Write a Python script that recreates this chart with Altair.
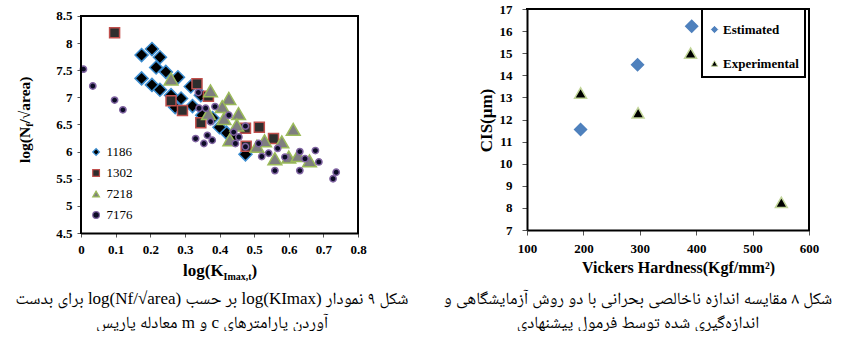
import altair as alt
import pandas as pd

SERIF = "Liberation Serif"
CAP_FONT = "Liberation Serif, 'Noto Naskh Arabic', 'Noto Serif Arabic', 'Noto Sans Arabic', 'DejaVu Sans', serif"
RLE, PDF = "\u202b", "\u202c"

# ---------------- Left chart (Fig. 9) data ----------------
s1186_k = [0.175, 0.205, 0.228, 0.217, 0.245, 0.280, 0.175, 0.205, 0.228, 0.260, 0.289,
           0.272, 0.322, 0.317, 0.346, 0.350, 0.380, 0.420, 0.440, 0.475, 0.400]
s1186_n = [7.78, 7.89, 7.74, 7.55, 7.47, 7.37, 7.35, 7.23, 7.14, 7.04, 6.98,
           6.82, 6.84, 7.20, 7.04, 6.67, 6.62, 6.35, 6.25, 5.95, 6.45]
s1302_k = [0.097, 0.260, 0.293, 0.335, 0.368, 0.346, 0.475, 0.515, 0.556, 0.477]
s1302_n = [8.19, 6.94, 6.76, 7.25, 7.02, 6.53, 6.43, 6.45, 6.24, 6.10]
s7218_k = [0.260, 0.374, 0.368, 0.427, 0.408, 0.455, 0.413, 0.450, 0.613, 0.530, 0.580,
           0.508, 0.560, 0.600, 0.627, 0.660, 0.430]
s7218_n = [7.34, 7.12, 6.70, 6.98, 6.83, 6.70, 6.61, 6.49, 6.41, 6.20, 6.18,
           6.10, 5.87, 5.90, 5.93, 5.83, 6.22]
s7176_k = [0.007, 0.034, 0.097, 0.121, 0.339, 0.341, 0.360, 0.387, 0.374, 0.331, 0.355,
           0.365, 0.379, 0.427, 0.441, 0.456, 0.475, 0.446, 0.475, 0.513, 0.522, 0.542,
           0.568, 0.589, 0.560, 0.632, 0.647, 0.677, 0.687, 0.632, 0.737, 0.728]
s7176_n = [7.52, 7.21, 6.95, 6.77, 7.09, 6.80, 6.80, 6.83, 6.55, 6.24, 6.15,
           6.30, 6.21, 6.67, 6.36, 6.27, 6.47, 6.15, 6.09, 6.15, 5.91, 5.97,
           6.06, 5.90, 5.65, 6.00, 5.87, 6.02, 5.81, 5.65, 5.62, 5.50]
left_series = ["1186", "1302", "7218", "7176"]
left_x_ticks = [0, 0.1, 0.2, 0.3, 0.4, 0.5, 0.6, 0.7, 0.8]
left_y_ticks = [4.5, 5, 5.5, 6, 6.5, 7, 7.5, 8, 8.5]
left_x_title = ["log(K", "Imax,t", ")"]
left_y_title = ["log(N", "f", "/√area)"]
left_caption = ["شکل ۹ نمودار log(KImax) بر حسب log(Nf/√area) برای بدست",
                "آوردن پارامترهای c و m معادله پاریس"]

# ---------------- Right chart (Fig. 8) data ----------------
est_hv = [195, 296, 392]
est_cis = [11.55, 14.48, 16.22]
exp_hv = [195, 297, 390, 551]
exp_cis = [13.2, 12.3, 15.0, 8.25]
right_series = ["Estimated", "Experimental"]
right_x_ticks = [100, 200, 300, 400, 500, 600]
right_y_ticks = [7, 8, 9, 10, 11, 12, 13, 14, 15, 16, 17]
right_x_title = "Vickers Hardness(Kgf/mm²)"
right_y_title = "CIS(μm)"
right_caption = ["شکل ۸ مقایسه اندازه ناخالصی بحرانی با دو روش آزمایشگاهی و",
                 "اندازه‌گیری شده توسط فرمول پیشنهادی"]

# ---------------- tables ----------------
rows = []
for name, ks, ns in [("1186", s1186_k, s1186_n), ("1302", s1302_k, s1302_n),
                     ("7218", s7218_k, s7218_n), ("7176", s7176_k, s7176_n)]:
    for k, n in zip(ks, ns):
        rows.append({"series": name, "k": k, "n": n})
left_df = pd.DataFrame(rows)

rrows = []
for name, hs, cs in [("Estimated", est_hv, est_cis), ("Experimental", exp_hv, exp_cis)]:
    for h, c in zip(hs, cs):
        rrows.append({"series": name, "hv": h, "cis": c})
right_df = pd.DataFrame(rrows)

one = pd.DataFrame({"a": [0]})

LW, LH = 277, 224
RW, RH = 282, 221


def piece(text, x, y, size, angle=0, align="left", baseline="alphabetic", weight="bold"):
    return alt.Chart(pd.DataFrame({"t": [text]})).mark_text(
        font=SERIF, fontSize=size, fontWeight=weight, angle=angle,
        align=align, baseline=baseline, color="black"
    ).encode(x=alt.value(x), y=alt.value(y), text="t:N")


def caption(text, x, y):
    return alt.Chart(pd.DataFrame({"t": [RLE + text + PDF]})).mark_text(
        font=CAP_FONT, fontSize=17, align="center", baseline="middle", color="black"
    ).encode(x=alt.value(x), y=alt.value(y), text="t:N")


def rule(x, y, x2=None, y2=None):
    enc = dict(x=alt.XDatum(x, title=None), y=alt.YDatum(y, title=None))
    if x2 is not None:
        enc["x2"] = alt.X2Datum(x2)
    if y2 is not None:
        enc["y2"] = alt.Y2Datum(y2)
    return alt.Chart(one).mark_rule(color="black", strokeWidth=2, strokeCap="square").encode(**enc)


def axis(values, **kw):
    base = dict(values=values, tickCount=len(values), grid=False, tickColor="#555",
                labelFont=SERIF, labelFontWeight="bold", labelFontSize=13,
                labelColor="black", labelOverlap=False, labelFlush=False)
    base.update(kw)
    return alt.Axis(**base)


# ---------------- left chart ----------------
lx = alt.X("k:Q", scale=alt.Scale(domain=[0, 0.8], nice=False, zero=False),
           axis=axis(left_x_ticks, format=".1~f", title=None, domainColor="black",
                     domainWidth=2, tickSize=4, labelPadding=6))
ly = alt.Y("n:Q", scale=alt.Scale(domain=[4.5, 8.629], nice=False, zero=False),
           axis=axis(left_y_ticks, format="~g", title=None, domain=False,
                     tickSize=4, labelPadding=5))

left_legend = alt.Legend(title=None, orient="none", legendX=8.6, legendY=136.5,
                         labelFont=SERIF, labelFontSize=13, labelColor="black",
                         labelOffset=4, rowPadding=7, padding=0, symbolSize=45,
                         symbolStrokeWidth=1.2)

left_shape = alt.Shape("series:N", scale=alt.Scale(domain=left_series,
                       range=["diamond", "square", "triangle-up", "circle"]), legend=left_legend)
left_fill = alt.Fill("series:N", scale=alt.Scale(domain=left_series,
                     range=["#000000", "#2e2e2e", "#7f7f7f", "#0c0c26"]), legend=left_legend)
left_stroke = alt.Stroke("series:N", scale=alt.Scale(domain=left_series,
                         range=["#3c8dd0", "#c0504d", "#9bbb59", "#8064a2"]), legend=left_legend)
left_sizes = [170, 100, 190, 40]


def left_layer(name, size):
    return alt.Chart(left_df).transform_filter(
        alt.datum.series == name
    ).mark_point(filled=True, opacity=1, strokeWidth=1.5, size=size).encode(
        x=lx, y=ly, shape=left_shape, fill=left_fill, stroke=left_stroke)


anchor = alt.Chart(one).mark_rule(color="white", strokeWidth=2).encode(
    x=alt.value(-80), x2=alt.value(-79), y=alt.value(-8), y2=alt.value(-8))

left = alt.layer(
    anchor,
    *[left_layer(n, s) for n, s in zip(left_series, left_sizes)],
    rule(0, 4.5, y2=8.5),
    rule(0, 8.5, x2=0.8),
    rule(0.8, 4.5, y2=8.5),
    piece(left_x_title[0], 102, 267, 17),
    piece(left_x_title[1], 142.6, 271, 10),
    piece(left_x_title[2], 170.6, 267, 17),
    piece(left_y_title[0], -51, 154, 15.5, angle=270),
    piece(left_y_title[1], -48, 117.8, 10, angle=270),
    piece(left_y_title[2], -51, 114.5, 15.5, angle=270),
    caption(left_caption[0], 131, 290),
    caption(left_caption[1], 131, 314),
).properties(width=LW, height=LH)

# ---------------- right chart ----------------
rx = alt.X("hv:Q", scale=alt.Scale(domain=[100, 600], nice=False, zero=False),
           axis=axis(right_x_ticks, title=right_x_title, domainColor="black",
                     domainWidth=2, tickSize=5, labelPadding=7,
                     titleFont=SERIF, titleFontWeight="bold", titleFontSize=16,
                     titleColor="black", titleX=151, titleY=37,
                     titleAlign="center", titleBaseline="middle"))
ry = alt.Y("cis:Q", scale=alt.Scale(domain=[7, 17], nice=False, zero=False),
           axis=axis(right_y_ticks, title=right_y_title, domainColor="black",
                     domainWidth=2, tickSize=5, labelPadding=10,
                     titleFont=SERIF, titleFontWeight="bold", titleFontSize=17,
                     titleColor="black", titleX=-41, titleY=111, titleAngle=270,
                     titleAlign="center", titleBaseline="middle"))

right_legend = alt.Legend(title=" ", titleFontSize=8, titlePadding=0,
                          orient="none", legendX=175, legendY=0,
                          labelFont=SERIF, labelFontSize=13, labelFontWeight="bold",
                          labelColor="black", labelOffset=2, rowPadding=20, padding=6,
                          symbolSize=40, symbolStrokeWidth=1, strokeColor="black",
                          fillColor="white")

right_pts = alt.Chart(right_df).mark_point(filled=True, opacity=1, strokeWidth=1.5, size=142).encode(
    x=rx, y=ry,
    shape=alt.Shape("series:N", scale=alt.Scale(domain=right_series,
                    range=["diamond", "triangle-up"]), legend=right_legend),
    fill=alt.Fill("series:N", scale=alt.Scale(domain=right_series,
                  range=["#4f81bd", "#000000"]), legend=right_legend),
    stroke=alt.Stroke("series:N", scale=alt.Scale(domain=right_series,
                      range=["#4f81bd", "#c3d69b"]), legend=right_legend),
)

right = alt.layer(
    right_pts,
    rule(100, 17, x2=600),
    rule(600, 7, y2=17),
    caption(right_caption[0], 111, 290),
    caption(right_caption[1], 111, 314),
).properties(width=RW, height=RH)

chart = alt.hconcat(left, right, spacing=169, bounds="flush").resolve_scale(
    shape="independent", fill="independent", stroke="independent"
).resolve_legend(
    shape="independent", fill="independent", stroke="independent"
).properties(
    padding=0, background="white"
).configure_view(stroke=None).configure_legend(strokeWidth=2)

chart.save("out.html", embed_options={"renderer": "svg", "actions": False})
